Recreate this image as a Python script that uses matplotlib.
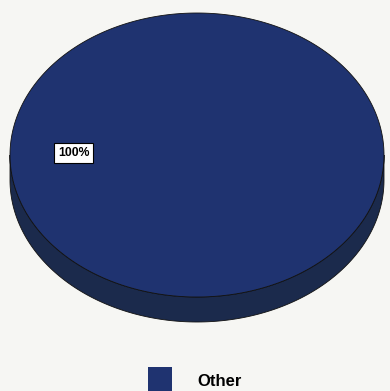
import numpy as np
import matplotlib.pyplot as plt
from matplotlib.patches import Polygon, Rectangle

# data
labels = ["Other"]
values = [100]
pct_labels = ["100%"]

top_colors = ["#1f3370"]
side_colors = ["#1b2a4c"]

plt.rcParams['font.family'] = ['Liberation Sans', 'DejaVu Sans']

fig = plt.figure(figsize=(3.9, 3.91), dpi=100, facecolor="#f6f6f3")
ax = fig.add_axes([0, 0, 1, 1])
ax.set_xlim(0, 390)
ax.set_ylim(391, 0)
ax.axis("off")

# pie geometry (pixels)
cx, cy = 197, 155
a, b = 187, 142
depth = 25


def ell(t):
    return cx + a * np.cos(t), cy + b * np.sin(t)


fracs = np.array(values, dtype=float) / np.sum(values)
edges = np.concatenate([[0], np.cumsum(fracs)]) * 2 * np.pi

# side wall (visible front half: angles 0..pi, y grows downward)
for i in range(len(values)):
    t0, t1 = max(edges[i], 0), min(edges[i + 1], np.pi)
    if t1 <= t0:
        continue
    t = np.linspace(t0, t1, 200)
    x, y = ell(t)
    pts = np.column_stack([np.r_[x, x[::-1]], np.r_[y, y[::-1] + depth]])
    ax.add_patch(Polygon(pts, closed=True, facecolor=side_colors[i],
                         edgecolor="#111111", lw=0.6))

# top face
for i in range(len(values)):
    t = np.linspace(edges[i], edges[i + 1], 400)
    x, y = ell(t)
    if fracs[i] < 1:
        x = np.r_[cx, x]
        y = np.r_[cy, y]
    ax.add_patch(Polygon(np.column_stack([x, y]), closed=True,
                         facecolor=top_colors[i], edgecolor="#111111", lw=0.6))
    mid = (edges[i] + edges[i + 1]) / 2
    lx, ly = cx + 0.66 * a * np.cos(mid), cy - 2 + 0.66 * b * np.sin(mid)
    ax.text(lx, ly, pct_labels[i], ha="center", va="center", fontsize=8.8,
            fontweight="bold", color="black",
            bbox=dict(boxstyle="square,pad=0.3", facecolor="white",
                      edgecolor="black", lw=0.8))

# legend
for i, lab in enumerate(labels):
    ax.add_patch(Rectangle((148, 367), 24, 24, facecolor=top_colors[i],
                           edgecolor="none"))
    ax.text(197, 381, lab, ha="left", va="center", fontsize=12,
            fontweight="bold", color="black")

fig.savefig("out.png", dpi=100, facecolor=fig.get_facecolor())
